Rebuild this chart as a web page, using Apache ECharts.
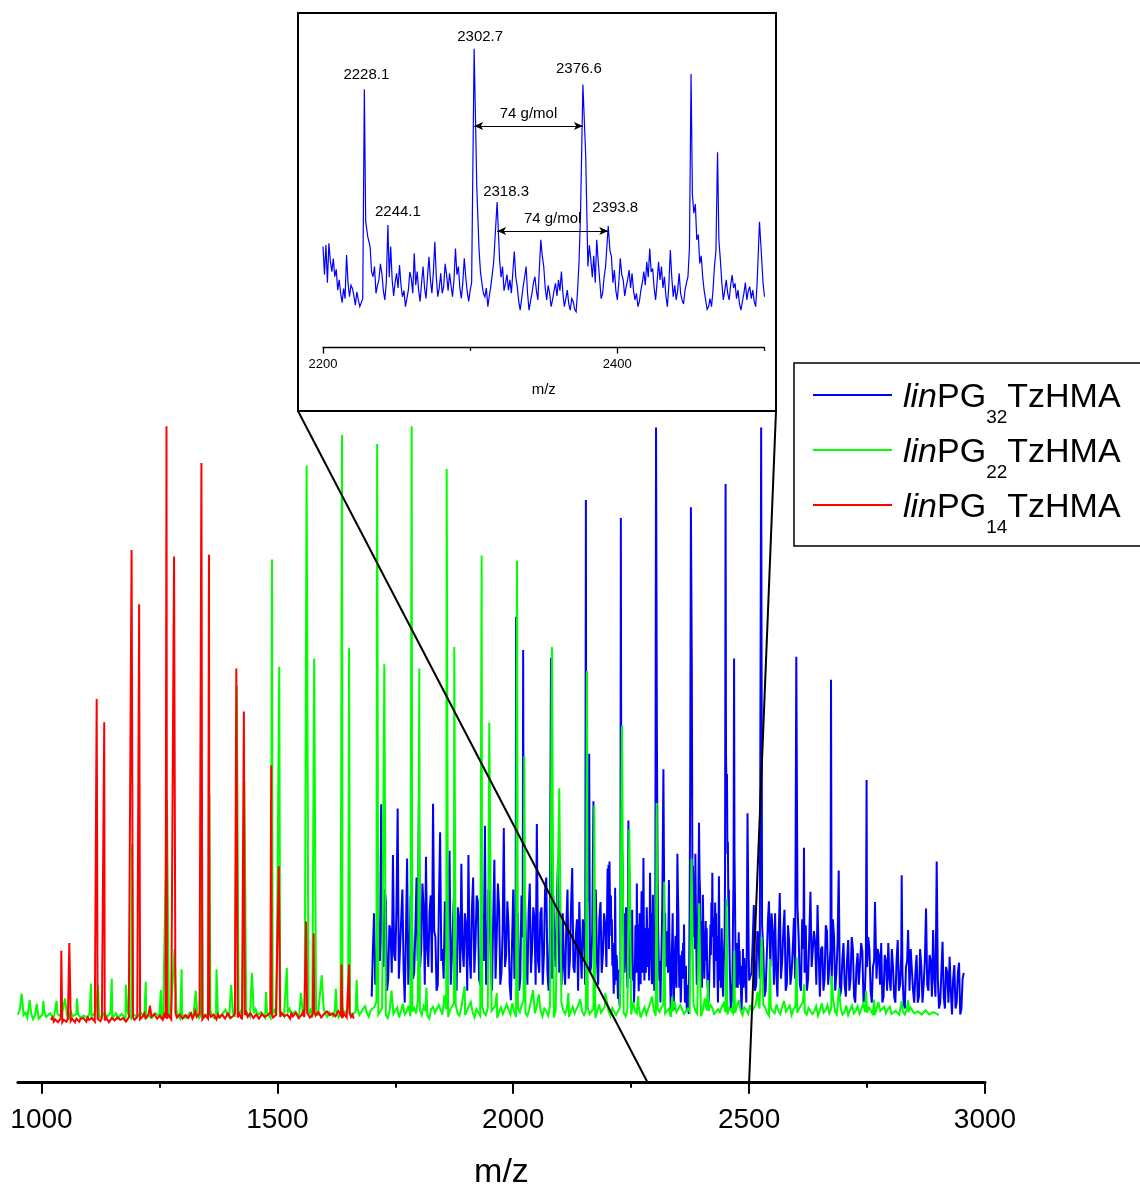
<!DOCTYPE html>
<html>
<head>
<meta charset="utf-8">
<script src="https://cdn.jsdelivr.net/npm/echarts@6/dist/echarts.min.js"></script>
<style>html,body{margin:0;padding:0;background:#fff}#chart{width:1140px;height:1187px}</style>
</head>
<body>
<div id="chart"></div>
<script>
// ---------------- DATA ----------------
const seriesNames = ['linPG32TzHMA', 'linPG22TzHMA', 'linPG14TzHMA'];
const seriesSubscripts = ['32', '22', '14'];

const mzTicks = [1000, 1500, 2000, 2500, 3000];
const mzMinorTicks = [1250, 1750, 2250, 2750];
const insetTicks = [2200, 2400];
const insetMinorTicks = [2300, 2500];

// red: linPG14TzHMA (baseline samples every 3 m/z from 1020)
const redNoiseStart = 1020, redNoiseStep = 3;
const redNoise = [
  0.1,0.5,-0.2,0.2,0.3,-0.3,0,0.4,-0.3,0.1,0.2,-0.2,0.4,0,-0.1,0.3,0.1,-0.3,0.3,0,
  -0.2,0.3,0,0.4,0.2,-0.2,0.5,0.1,-0.1,0.4,0.1,-0.2,-0.3,0.3,0.2,-0.1,0.4,0.1,0,0.5,
  0.1,-0.3,-0.2,0.4,0.3,0,0.1,0.5,0.6,0.1,-0.1,0.4,0.2,-0.2,0,0.5,0.3,-0.1,0.5,0.1,
  0.2,0.6,0.8,0.2,0.1,0.7,1.2,0.4,0.3,1.0,2.5,0.6,0.4,1.1,0.9,0.3,0.2,0.8,0.6,0.1,
  1.0,0.4,0.3,0.9,0.7,0.2,0.1,0.8,1.3,0.5,0.4,1.0,0.8,0.3,0.2,0.9,1.1,0.4,0.5,1.2,
  0.3,0.8,1.6,0.6,0.4,1.1,0.9,0.2,0.2,0.9,0.7,0.3,1.2,0.6,0.3,1.0,0.6,0.2,1.0,0.5,
  0.2,1.0,0.8,0.3,0.4,1.2,0.9,0.4,0.3,0.8,1.2,0.5,0.5,1.1,0.8,0.2,0.2,0.9,1.4,0.6,
  0.6,1.2,1.0,0.4,0.3,1.0,0.9,0.3,0.5,1.1,1.3,0.6,0.4,0.9,0.7,1.3,1.1,0.5,0.3,0.9,
  0.9,0.4,0.6,1.2,1.5,0.7,0.4,1.0,0.8,0.3,1.2,0.7,0.5,1.3,1.0,0.4,0.3,0.9,1.4,0.6,
  0.7,1.3,1.1,0.5,0.4,1.0,1.6,0.8,0.8,1.4,1.2,0.5,0.5,1.1,1.0,1.5,1.7,0.9,0.6,1.2,
  1.3,0.7,0.9,1.6,1.5,0.8,0.4,1.2,1.1,0.5,0.8,1.3,0.6,1.0,0.3
];
const redPeakMz  = [1042, 1059, 1117, 1133, 1191, 1207, 1265, 1281, 1339, 1355, 1413, 1429, 1487, 1503, 1561, 1577, 1636, 1652];
const redPeakInt = [11.7, 13.0, 54.0, 50.1, 79.0, 69.9, 99.8, 77.9, 93.6, 78.2, 59.1, 51.9, 42.8, 25.9, 16.6, 14.6, 9.4, 9.4];

// green: linPG22TzHMA (baseline samples every 4 m/z from 950)
const greenNoiseStart = 950, greenNoiseStep = 4;
const greenNoise = [
  1.0,1.8,0.4,0.9,1.3,0.5,0.6,1.2,0.2,0.8,1.1,0.3,0.5,1.0,1.4,0.6,0.3,1.2,0.9,0.4,
  0.5,1.1,1.2,0.6,0.3,0.9,0.8,0.3,1.5,0.7,0.4,1.1,1.0,0.5,0.2,0.8,0.9,0.4,1.3,0.7,
  0.6,1.3,1.1,0.4,0.3,0.9,1.4,0.6,0.7,1.2,0.2,0.8,1.2,0.4,0.5,1.1,0.9,0.3,1.6,0.8,
  0.4,1.2,1.0,0.5,0.7,1.4,1.3,0.6,0.3,0.9,1.1,0.4,0.6,1.2,1.5,0.7,0.2,1.0,0.9,0.5,
  1.2,0.6,0.5,1.1,1.7,0.8,0.3,1.0,1.0,0.4,0.6,1.3,1.4,0.7,0.8,1.5,0.4,0.9,1.3,0.6,
  0.7,1.3,1.6,0.8,0.4,1.0,1.1,0.5,0.9,1.4,1.8,0.9,0.5,1.1,1.2,0.6,0.3,1.0,1.5,0.7,
  0.8,1.5,1.3,0.6,0.5,1.2,1.9,0.9,0.6,1.4,1.1,0.5,1.4,0.8,0.4,1.1,1.7,0.8,0.9,1.6,
  1.2,0.7,0.5,1.3,2.0,1.0,0.8,1.5,1.4,0.6,0.6,1.2,1.8,0.9,1.0,1.7,0.4,1.1,1.6,0.8,
  0.9,1.6,2.1,1.0,0.6,1.4,1.3,0.7,1.7,1.1,0.5,1.5,2.2,1.2,1.0,1.9,1.4,0.8,0.7,1.5,
  1.9,0.9,1.1,2.0,2.4,1.2,0.6,1.7,1.5,2.3,3.2,1.0,0.8,2.1,1.9,0.9,0.4,1.6,2.6,1.1,
  1.2,2.2,0.5,1.6,2.8,1.0,1.4,2.5,0.7,1.5,2.1,1.2,3.5,1.8,0.9,2.4,1.6,0.8,0.3,1.9,
  2.3,1.3,1.0,2.6,1.8,1.0,4.2,1.9,0.6,1.8,1.5,2.8,2.7,1.2,0.8,2.2,2.0,0.9,1.1,2.4,
  3.1,1.4,0.5,1.9,1.7,0.8,2.4,1.3,0.9,2.1,3.8,1.6,1.3,2.5,0.4,1.5,2.2,1.1,1.0,2.7,
  1.8,1.0,2.9,1.5,0.6,2.0,1.4,2.6,3.3,1.2,0.8,1.9,2.0,0.9,1.2,2.4,4.4,1.6,0.7,2.0,
  1.6,0.8,2.5,1.4,0.5,1.6,1.9,1.0,3.0,1.7,1.1,2.2,0.6,1.5,2.3,1.2,1.4,2.6,3.6,1.5,
  0.9,1.7,2.1,1.1,1.3,2.0,0.4,1.5,2.7,1.3,1.5,2.3,3.4,1.6,0.8,2.1,1.8,0.9,1.0,2.2,
  2.4,1.3,0.7,1.9,1.6,1.0,3.1,1.6,1.2,2.4,0.5,1.4,2.2,1.0,1.9,2.8,4.0,1.7,0.8,1.9,
  1.4,2.2,2.6,1.2,1.0,2.0,0.6,1.5,3.2,1.4,1.7,2.6,2.3,1.1,0.9,2.0,1.5,0.9,2.8,1.6,
  1.1,2.0,0.7,1.8,3.7,1.7,1.6,2.6,2.1,1.1,0.8,1.9,1.4,2.3,2.9,1.4,1.0,2.1,2.4,1.2,
  1.3,2.4,3.4,1.6,0.9,2.2,1.8,1.1,2.6,1.5,1.2,2.7,4.8,2.0,1.5,2.6,2.2,1.3,0.8,2.0,
  1.9,1.2,2.7,1.6,1.1,2.3,3.3,1.5,1.6,2.5,0.9,1.8,2.4,1.3,1.4,2.6,3.0,1.4,1.0,2.1,
  2.2,1.1,1.5,2.4,0.8,1.7,2.9,1.3,1.7,2.6,1.2,2.0,3.6,1.5,1.0,2.2,2.1,1.0,1.4,2.5,
  0.9,1.8,2.5,1.2,1.6,2.4,1.1,2.0,2.8,1.4,1.3,2.2,2.0,1.1,0.9,1.9,3.1,1.6,1.5,2.3,
  1.2,1.9,2.3,1.1,0.8,1.6,1.7,1.0,2.6,1.5,1.0,1.8,1.4,2.2,2.1,1.2,0.9,1.5,1.6,1.0,
  1.1,1.7,1.8,1.0,0.8,1.4,1.5,1.1,0.9
];
const greenPeakMz = [958, 975, 990, 1004, 1032, 1050, 1075, 1105, 1120, 1149, 1179, 1192, 1221, 1253, 1266, 1282, 1297, 1327, 1340, 1356,
  1371, 1402, 1414, 1430, 1446, 1476, 1488.6, 1504, 1520, 1550, 1562, 1578, 1594, 1624, 1637, 1652, 1668, 1711.5, 1726.7, 1742,
  1784.7, 1800.9, 1816, 1858.9, 1875, 1897, 1933, 1949.2, 1965, 2008, 2023.4, 2042, 2082, 2097.6, 2117, 2156.3, 2171.8, 2195, 2230.6, 2246,
  2265, 2304, 2320, 2337, 2378, 2394, 2413, 2452.4, 2468.6, 2526.6, 2544, 2600.8, 2617, 2675, 2690.5, 2748, 2765, 2823, 2837];
const greenPeakInt = [4.5, 3.4, 2.8, 3.3, 3.3, 3.7, 3.7, 6.2, 6.0, 7.0, 6.0, 29.6, 6.5, 5.1, 36.9, 12, 8.6, 5.0, 34.0, 38.0,
  8.6, 6.0, 56.2, 40, 8.0, 4.8, 77.4, 59.4, 8.8, 4.6, 93.2, 60.8, 7.6, 5.3, 98.3, 62.5, 6.8, 96.8, 59.8, 5,
  99.8, 59.1, 5.5, 92.6, 62.7, 5.7, 78.1, 50, 4.6, 77.2, 44.4, 5.1, 62.7, 39, 4.6, 58.7, 36.1, 4.6, 49.5, 32.1,
  4.1, 36.5, 23.3, 4, 27.2, 19.7, 6.8, 20.4, 11.7, 14, 10.3, 10.6, 6.1, 7.5, 5.4, 5, 3.5, 3.2, 3.4];

// blue: linPG32TzHMA
const blueNoiseAStart = 1700, blueNoiseAStep = 2.5;
const blueNoiseA = [
  4,12,18,6,8,19,14,10,36.3,13,9,22,20,5,7,16,15,8,27.8,11,
  10,19,35.6,7,12,17,22,9,3,14,27.2,6,11,21,18,7,8,15,24,10,
  36.9,9,12,23,19,6,27.5,12,9,18,21,8,36.4,15,14,5,6,20,31.6,10,
  12,7,20,13,8,22,28.5,6,11,17,23,9,5,19,17,8,26.3,12,9,18,
  16,5,27.8,11,7,19,24,8,13,21,20,7,6,16,18,10,32.7,6,10,22,
  21,9,5,17,27,7,14,23,19,6,8,15,32.3,9,11,20,16,6,3.4,13,
  22,7,9,16,18,5,7,21,14,8,20,11,6,18,23,8,12,19,17,6,
  33,10,8,18,19,6,11,22,24,8,5,14,16,7,21,12,9,20,27,8,
  13,6,18,9,6,16,22,7,10,19,25.6,9,8,14,17,5,19.9,12,7,17,
  15,6,12,21,20,8,9,15,14,6,22,10,6,17,19.9,8,11,18,16,9
];
const blueNoiseBStart = 2200, blueNoiseBStep = 1;
const blueNoiseB = [
  25.5,15,26.1,12,26.7,20,16.1,21,14.2,17,9.2,13,8.0,4.5,9.8,6,22.3,12,6.7,11,
  9.8,7,3.6,8.5,5.5,3,2.4,6,8,35,20,22,25.5,16,14.2,18,8.0,11,13.0,19,
  15.5,9,5.5,12,10,14,25.5,13,7.0,12,15.5,10,18.6,11,6.7,9,3.0,6,9.2,16,
  13.6,8,23.0,11,16.1,9,4.9,12,18.0,10,6.1,14,21.7,13,8.0,16,27.3,14,6.7,10,
  15.5,8,10.5,19,14.8,9,15.5,11,6.7,13,24.8,15,18.0,10,6.1,12,21.1,14,8.6,5,
  9.2,12,10,50,20,30,24.8,16,11.7,8,6.7,10,3.0,7,10.5,15,19.8,20,15,25,
  20.5,14,18.0,9,11.7,15,9.2,13,8.0,16,23.6,14,10.5,5,1.7,6,10.5,14,18.0,8,
  1.7,5,8.0,12,14.2,9,5.5,17,28.0,22,18.0,10,5.5,11,8.0,3,5.5,9,11.7,7,
  13.0,9,16.1,8,3.0,6,9.2,4,1.7,6,4.9,2,1.1,9,20.0,38,30,60,50,30,
  18.0,26,20.5,14,22.0,12,28.0,20,13.0,6,8.0,14,18.0,20,15,24,21.7,12,16.7,9,
  5.5,12,21.1,15,13.0,7,10.5,13,16.7,10,15.5,9,5.5,8,3.0,5,9.2,12,16.1,11,
  19.8,14,24.8,16,17.3,10,5.5,12,19.8,13,18.0,10,14.2,7,3.0,11,24.2,14,6.7,11,
  5.5,9,15.5,8,5.5,4,9.2,12,14.2,25,20,45,38,40,28.0,30,19.2,22,14.2,9,
  5.5,2,3.0,6,3.0,9,18.0,24,20,28,20.5,12,5.5,9,13.0,8,5.5,11,14.8,10,
  11.7,6,9.2,4,1.7,5,8.0,12,5.5,9,10.5,6,9.2,5,3.0,12,20,20,21.7,12,
  6.7
];
const blueNoiseCStart = 2505, blueNoiseCStep = 2.5;
const blueNoiseC = [
  8,13,19.4,5,6,15,14,7,10,16,12,4,5,11,17,7,9,18,15,6,
  18,8,4,14,21.4,7,10,15,18.6,5,6,16,13,6,8,12,17.2,7,9,19,
  14,6,5,17,12,8,16,5,7,14,21.6,9,9,15,13,6,19.4,11,4,12,
  12.4,5,7,16,15,6,9,12,6,17,14,5,8,13,11,4,5,10,13,6,
  4,10,13.5,5,7,14,12,4,3,9,11.3,6,6,13,11.6,3,4,10,9,14,
  12,5,3,9,10,4,7,12,11,6,13,3,4,11,10,5,13,7,5,12,
  9,4,3,10,13.5,5,6,11,8,3,2,9,10,4,5,12,12,5,3,8,
  11,3,4,12,9,3,6,10,18.8,6,5,11,10,4,15.2,7,4,9,7,2,
  3,8,13.2,4,2,9,8,3,10.7,5,1,7,9.3,2,3,8,9.7,1,2,7,
  8
];
const bluePeakMz  = [2006, 2021, 2080, 2154, 2161, 2170, 2228.1, 2230.4, 2244.1, 2302.7, 2304.5, 2318.3, 2376.6, 2378.5, 2393.8,
  2450.1, 2453, 2468.1, 2496.6, 2525.5, 2542, 2600, 2616.3, 2673.6, 2689.9, 2749, 2766.8, 2823.4, 2837, 2897.6];
const bluePeakInt = [67.8, 62.2, 60.9, 87.4, 44.8, 36.8, 84.4, 29.2, 33.6, 99.6, 47.7, 42.2, 86.2, 59.7, 33.2,
  90.1, 41.4, 60.8, 34.8, 99.6, 20, 61.1, 29, 57.2, 25.2, 40.4, 19.9, 24.4, 15.2, 26.7];

// inset annotations
const insetRange = [2200, 2500];
const insetLabelMz = [2228.1, 2302.7, 2376.6, 2244.1, 2318.3, 2393.8];
const spacingFrom = [2302.7, 2318.3];
const spacingTo = [2376.6, 2393.8];
const spacingLevel = [70.6, 31.3];
const spacingText = '74 g/mol';
const zoomMarks = [2284, 2500];

// ---------------- BUILD ----------------
const FF = '"Liberation Sans", Arial, Helvetica, sans-serif';

function mergeSpectrum(segments, peakMz, peakInt) {
  const pts = [];
  segments.forEach(([start, step, values]) => {
    values.forEach((v, i) => {
      const x = +(start + i * step).toFixed(3);
      if (!peakMz.some(m => Math.abs(m - x) < 0.9)) pts.push([x, v]);
    });
  });
  peakMz.forEach((m, i) => pts.push([m, peakInt[i]]));
  pts.sort((a, b) => a[0] - b[0]);
  return pts;
}

const redData = mergeSpectrum([[redNoiseStart, redNoiseStep, redNoise]], redPeakMz, redPeakInt);
const greenData = mergeSpectrum([[greenNoiseStart, greenNoiseStep, greenNoise]], greenPeakMz, greenPeakInt);
const blueData = mergeSpectrum([
  [blueNoiseAStart, blueNoiseAStep, blueNoiseA],
  [blueNoiseBStart, blueNoiseBStep, blueNoiseB],
  [blueNoiseCStart, blueNoiseCStep, blueNoiseC]
], bluePeakMz, bluePeakInt);
const insetData = blueData.filter(p => p[0] >= insetRange[0] && p[0] <= insetRange[1]);

const chart = echarts.init(document.getElementById('chart'), null, {renderer: 'canvas'});

const lineSeries = (name, data, color, width, xi, yi) => ({
  name, type: 'line', data, xAxisIndex: xi, yAxisIndex: yi,
  symbol: 'none', showSymbol: false,
  lineStyle: {color, width, join: 'miter', miterLimit: 4}, itemStyle: {color},
  emphasis: {disabled: true}, silent: true, animation: false, clip: true
});

const plain = v => String(v);

const option = {
  animation: false,
  backgroundColor: '#ffffff',
  grid: [
    {left: 17.9, right: 155, top: 425, bottom: 105.2, containLabel: false, outerBoundsMode: 'none'},
    {left: 323, right: 375.5, top: 47.6, bottom: 839.5, containLabel: false, outerBoundsMode: 'none'}
  ],
  xAxis: [
    {
      type: 'value', gridIndex: 0, position: 'bottom', min: 950, max: 3000,
      axisLine: {onZero: false, lineStyle: {color: '#000', width: 3}},
      axisTick: {customValues: mzTicks, length: 12, lineStyle: {color: '#000', width: 2}},
      axisLabel: {customValues: mzTicks, formatter: plain, fontSize: 28, color: '#000', fontFamily: FF, margin: 24},
      splitLine: {show: false},
      name: 'm/z', nameLocation: 'middle', nameGap: 74,
      nameTextStyle: {fontSize: 34, color: '#000', fontFamily: FF}
    },
    {
      type: 'value', gridIndex: 0, position: 'bottom', min: 950, max: 3000,
      axisLine: {show: false, onZero: false},
      axisTick: {customValues: mzMinorTicks, length: 6, lineStyle: {color: '#000', width: 2}},
      axisLabel: {show: false}, splitLine: {show: false}
    },
    {
      type: 'value', gridIndex: 1, position: 'bottom', min: insetRange[0], max: insetRange[1],
      axisLine: {onZero: false, lineStyle: {color: '#000', width: 1.3}},
      axisTick: {customValues: insetTicks, length: 6, lineStyle: {color: '#000', width: 1.3}},
      axisLabel: {customValues: insetTicks, formatter: plain, fontSize: 13, color: '#000', fontFamily: FF, margin: 10},
      splitLine: {show: false},
      name: 'm/z', nameLocation: 'middle', nameGap: 35,
      nameTextStyle: {fontSize: 15, color: '#000', fontFamily: FF}
    },
    {
      type: 'value', gridIndex: 1, position: 'bottom', min: insetRange[0], max: insetRange[1],
      axisLine: {show: false, onZero: false},
      axisTick: {customValues: insetMinorTicks, length: 3.5, lineStyle: {color: '#000', width: 1.3}},
      axisLabel: {show: false}, splitLine: {show: false}
    }
  ],
  yAxis: [
    {type: 'value', gridIndex: 0, min: -10.3, max: 100, show: false},
    {type: 'value', gridIndex: 1, min: -12.3, max: 100, show: false}
  ],
  legend: {
    data: seriesNames, orient: 'vertical', left: 813, top: 378, padding: 0,
    icon: 'rect', itemWidth: 79, itemHeight: 2, itemGap: 6, selectedMode: false,
    formatter: name => '{i|lin}{n|PG}{s|' + seriesSubscripts[seriesNames.indexOf(name)] + '}{n|TzHMA}',
    textStyle: {
      color: '#000', fontFamily: FF,
      rich: {
        i: {fontStyle: 'italic', fontSize: 34, lineHeight: 34, fontFamily: FF, color: '#000', padding: [2.5, 0, 0, 6], verticalAlign: 'top'},
        n: {fontSize: 34, lineHeight: 34, fontFamily: FF, color: '#000', padding: [2.5, 0, 0, 0], verticalAlign: 'top'},
        s: {fontSize: 19, lineHeight: 19, fontFamily: FF, color: '#000', padding: [30, 0, 0, 0], verticalAlign: 'top'}
      }
    }
  },
  series: [
    lineSeries(seriesNames[0], blueData, '#0000ff', 2, 0, 0),
    lineSeries(seriesNames[1], greenData, '#00ff00', 2, 0, 0),
    lineSeries(seriesNames[2], redData, '#ff0000', 2, 0, 0),
    Object.assign(lineSeries('inset', insetData, '#0000ff', 1.2, 2, 1), {
      markLine: {
        silent: true, animation: false,
        symbol: ['arrow', 'arrow'], symbolSize: [6, 9],
        lineStyle: {color: '#000', width: 1.2, type: 'solid'},
        label: {show: true, position: 'middle', formatter: spacingText, color: '#000', fontSize: 15, fontFamily: FF, distance: 5},
        data: spacingFrom.map((f, k) => [{coord: [f, spacingLevel[k]]}, {coord: [spacingTo[k], spacingLevel[k]]}])
      }
    })
  ]
};

chart.setOption(option);

// decorations positioned through the chart's own scales
const axisY = chart.convertToPixel({yAxisIndex: 0}, -10.3);
const labelDx = [2, 6, -4, 10, 9, 7];
const labelDy = [-14.6, -11.7, -15.4, -13, -10, -18];
const graphics = [
  {type: 'rect', shape: {x: 298, y: 13, width: 478, height: 398}, style: {fill: 'none', stroke: '#000', lineWidth: 2}, z: 1},
  {type: 'rect', shape: {x: 794, y: 363, width: 360, height: 183}, style: {fill: 'none', stroke: '#000', lineWidth: 1.5}, z: 1},
  {type: 'line', shape: {x1: 298, y1: 411, x2: chart.convertToPixel({xAxisIndex: 0}, zoomMarks[0]), y2: axisY}, style: {stroke: '#000', lineWidth: 2}, z: 50},
  {type: 'line', shape: {x1: 776, y1: 411, x2: chart.convertToPixel({xAxisIndex: 0}, zoomMarks[1]), y2: axisY}, style: {stroke: '#000', lineWidth: 2}, z: 50}
];
insetLabelMz.forEach((mz, k) => {
  const h = bluePeakInt[bluePeakMz.indexOf(mz)];
  const pt = chart.convertToPixel({xAxisIndex: 2, yAxisIndex: 1}, [mz, h]);
  graphics.push({
    type: 'text', x: pt[0] + labelDx[k], y: pt[1] + labelDy[k], z: 50,
    style: {text: mz.toFixed(1), fontSize: 15, fontFamily: FF, fill: '#000', align: 'center', verticalAlign: 'middle', textAlign: 'center', textVerticalAlign: 'middle'}
  });
});
chart.setOption({graphic: graphics});
</script>
</body>
</html>
